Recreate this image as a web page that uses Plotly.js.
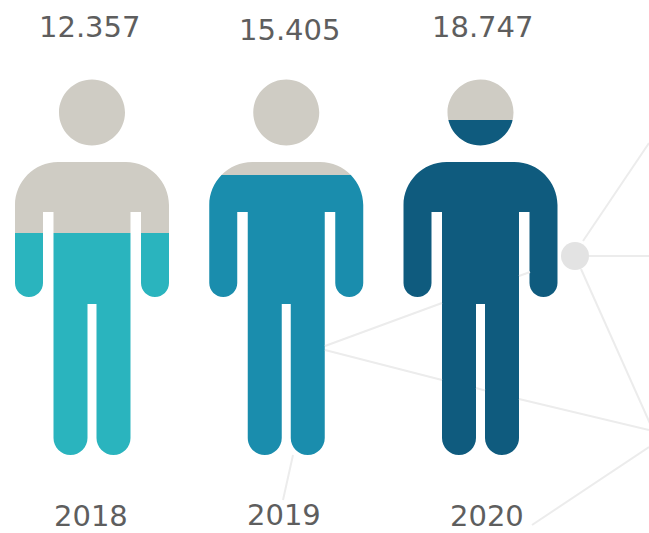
<!DOCTYPE html>
<html>
<head>
<meta charset="utf-8">
<script src="https://cdn.plot.ly/plotly-3.0.1.min.js"></script>
<style>html,body{margin:0;padding:0;background:#fff}#chart{width:649px;height:533px}</style>
</head>
<body>
<div id="chart"></div>
<script>
// ---- data ----
var years = ["2018", "2019", "2020"];
var counts = [12357, 15405, 18747];
var fillPercent = [59.1, 74.5, 89.2];   // share of each figure's height that is filled
var fillColors = ["#2AB4BE", "#1A8DAD", "#0F5B7E"];
var emptyColor = "#CFCCC4";

// ---- layout constants ----
var W = 649, H = 533;
var firstCenterPx = 92, spacingPx = 194.25;
var baselinePx = 455, topPx = 79;
var xRange = [-firstCenterPx / spacingPx, (W - firstCenterPx) / spacingPx];
var pctPerPx = 100 / (baselinePx - topPx);
var yRange = [-(H - baselinePx) * pctPerPx, baselinePx * pctPerPx];

var labelFont = {family: "'DejaVu Sans', sans-serif", size: 29, color: "#5E5E5E"};
var valueNudge = [-3, 3, 2], valueY = [27, 30, 27];
var yearNudge = [-1, -2, 6], yearY = [516, 515, 516];

function px(x) { return (x / W).toFixed(5); }
function py(y) { return (1 - y / H).toFixed(5); }
function P(x, y) { return px(x) + "," + py(y); }

function C(a, b, c, d, e, f) { return "C" + P(a, b) + " " + P(c, d) + " " + P(e, f); }

function figurePath(cx) {
  var k = 0.5523, r = 33, hy = 112.5, d = "";
  // head
  d += "M" + P(cx - r, hy);
  d += C(cx - r, hy - k * r, cx - k * r, hy - r, cx, hy - r);
  d += C(cx + k * r, hy - r, cx + r, hy - k * r, cx + r, hy);
  d += C(cx + r, hy + k * r, cx + k * r, hy + r, cx, hy + r);
  d += C(cx - k * r, hy + r, cx - r, hy + k * r, cx - r, hy) + "Z";
  // body
  var ar = 14, lr = 17, armB = 297, legB = 455;
  var o = 77, ai = 49, t = 38.5, g = 4.5, sT = 212, gT = 304, top = 162;
  d += "M" + P(cx - 34, top) + "L" + P(cx + 34, top);
  d += C(cx + 58, top, cx + o, top + 20, cx + o, top + 43);
  d += "L" + P(cx + o, armB - ar);
  d += C(cx + o, armB - ar + k * ar, cx + o - ar + k * ar, armB, cx + o - ar, armB);
  d += C(cx + ai + ar - k * ar, armB, cx + ai, armB - ar + k * ar, cx + ai, armB - ar);
  d += "L" + P(cx + ai, sT) + "L" + P(cx + t, sT) + "L" + P(cx + t, legB - lr);
  d += C(cx + t, legB - lr + k * lr, cx + t - lr + k * lr, legB, cx + t - lr, legB);
  d += C(cx + g + lr - k * lr, legB, cx + g, legB - lr + k * lr, cx + g, legB - lr);
  d += "L" + P(cx + g, gT) + "L" + P(cx - g, gT) + "L" + P(cx - g, legB - lr);
  d += C(cx - g, legB - lr + k * lr, cx - g - lr + k * lr, legB, cx - g - lr, legB);
  d += C(cx - t + lr - k * lr, legB, cx - t, legB - lr + k * lr, cx - t, legB - lr);
  d += "L" + P(cx - t, sT) + "L" + P(cx - ai, sT) + "L" + P(cx - ai, armB - ar);
  d += C(cx - ai, armB - ar + k * ar, cx - ai - ar + k * ar, armB, cx - ai - ar, armB);
  d += C(cx - o + ar - k * ar, armB, cx - o, armB - ar + k * ar, cx - o, armB - ar);
  d += "L" + P(cx - o, top + 43);
  d += C(cx - o, top + 20, cx - 58, top, cx - 34, top) + "Z";
  return d;
}

// white sheet with figure-shaped holes: the bars show through it
var maskPath = "M-0.01,-0.01L1.01,-0.01L1.01,1.01L-0.01,1.01Z";
years.forEach(function (_, i) { maskPath += figurePath(firstCenterPx + i * spacingPx); });

var shapes = [{
  type: "path", xref: "paper", yref: "paper", layer: "above",
  path: maskPath, fillcolor: "#FFFFFF", fillrule: "evenodd", line: {width: 0}
}];

// faint decorative network behind the figures (visible pieces only)
var netSegments = [
  [[583, 241], [649, 143]], [[589, 256], [649, 256]], [[581, 269], [652, 428]],
  [[325, 346], [442, 303]], [[519, 276], [530, 272]], [[325, 350], [442, 380]],
  [[476, 388], [485, 390.5]], [[519, 399], [649, 430]], [[649, 447], [532, 525]],
  [[293, 455], [283, 500]]
];
netSegments.forEach(function (s) {
  shapes.push({
    type: "line", xref: "paper", yref: "paper", layer: "above",
    x0: s[0][0] / W, y0: 1 - s[0][1] / H, x1: s[1][0] / W, y1: 1 - s[1][1] / H,
    line: {color: "#ECECEC", width: 2}
  });
});
shapes.push({
  type: "circle", xref: "paper", yref: "paper", layer: "above",
  x0: 561 / W, x1: 589 / W, y0: 1 - 270 / H, y1: 1 - 242 / H,
  fillcolor: "#E3E3E3", line: {width: 0}
});

var annotations = [];
years.forEach(function (yr, i) {
  annotations.push({
    x: i, xref: "x", y: 1 - valueY[i] / H, yref: "paper", xshift: valueNudge[i],
    text: String(counts[i]).replace(/(\d)(?=\d{3}$)/, "$1."),
    showarrow: false, font: labelFont, xanchor: "center", yanchor: "middle"
  });
  annotations.push({
    x: i, xref: "x", y: 1 - yearY[i] / H, yref: "paper", xshift: yearNudge[i],
    text: yr, showarrow: false, font: labelFont, xanchor: "center", yanchor: "middle"
  });
});

var traces = [
  {type: "bar", x: years, y: fillPercent, marker: {color: fillColors, line: {width: 0}}, hoverinfo: "skip"},
  {type: "bar", x: years, y: fillPercent.map(function (v) { return 100 - v; }),
   marker: {color: emptyColor, line: {width: 0}}, hoverinfo: "skip"}
];

var layout = {
  width: W, height: H,
  margin: {l: 0, r: 0, t: 0, b: 0, pad: 0},
  paper_bgcolor: "#FFFFFF", plot_bgcolor: "#FFFFFF",
  showlegend: false, barmode: "stack", bargap: 0.17,
  xaxis: {type: "category", categoryorder: "array", categoryarray: years, range: xRange, visible: false, fixedrange: true},
  yaxis: {range: yRange, visible: false, fixedrange: true},
  shapes: shapes, annotations: annotations
};

Plotly.newPlot("chart", traces, layout, {staticPlot: true, displayModeBar: false});
</script>
</body>
</html>
